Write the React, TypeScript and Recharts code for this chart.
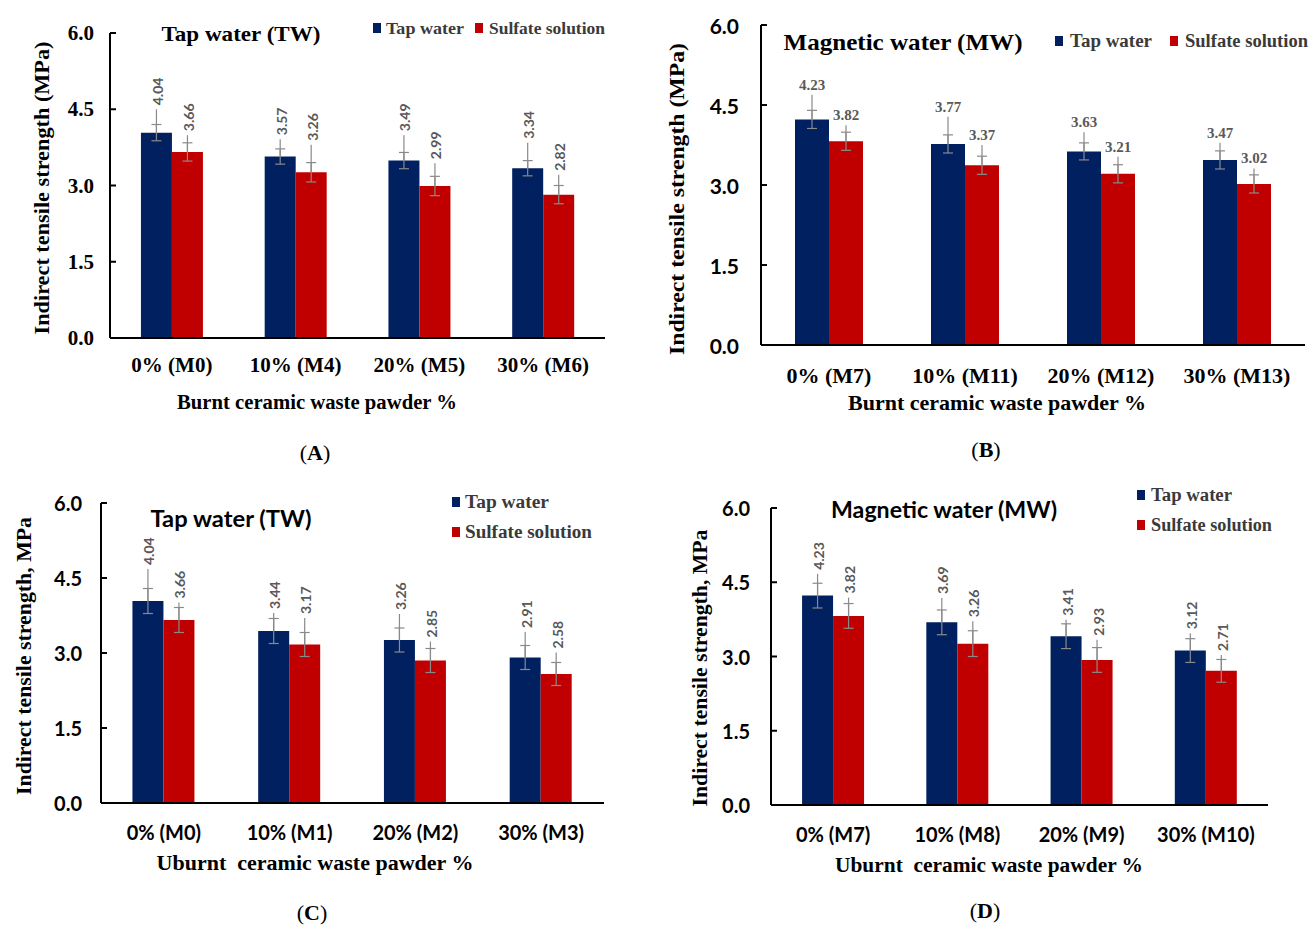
import React from 'react';
import { BarChart, Bar, XAxis, YAxis, ErrorBar, LabelList } from 'recharts';

const NAVY = '#002060';
const RED = '#C00000';
const WHISKER = '#8a8a8a';
const LABEL_GREY = '#595959';
const LEGEND_GREY = '#3a3a3a';
const SERIF = "'Liberation Serif', 'Times New Roman', serif";
const SANS = "Lato, 'Open Sans', sans-serif";

const Y_TICKS = [0, 1.5, 3, 4.5, 6];

// (A) tap water, burnt ceramic powder
const CATS_A = ['0% (M0)', '10% (M4)', '20% (M5)', '30% (M6)'];
const TAP_A = [4.04, 3.57, 3.49, 3.34];
const SULF_A = [3.66, 3.26, 2.99, 2.82];
const TAP_ERR_A = [0.16, 0.15, 0.16, 0.15];
const SULF_ERR_A = [0.18, 0.19, 0.19, 0.18];
const TAP_EXT_A = [0.46, 0.34, 0.5, 0.5];
const SULF_EXT_A = [0.33, 0.54, 0.45, 0.39];

// (B) magnetic water, burnt ceramic powder
const CATS_B = ['0% (M7)', '10% (M11)', '20% (M12)', '30% (M13)'];
const TAP_B = [4.23, 3.77, 3.63, 3.47];
const SULF_B = [3.82, 3.37, 3.21, 3.02];
const TAP_ERR_B = [0.17, 0.17, 0.16, 0.17];
const SULF_ERR_B = [0.17, 0.17, 0.17, 0.17];
const TAP_EXT_B = [0.46, 0.51, 0.36, 0.32];
const SULF_EXT_B = [0.3, 0.38, 0.32, 0.29];

// (C) tap water, unburnt ceramic powder
const CATS_C = ['0% (M0)', '10% (M1)', '20% (M2)', '30% (M3)'];
const TAP_C = [4.04, 3.44, 3.26, 2.91];
const SULF_C = [3.66, 3.17, 2.85, 2.58];
const TAP_ERR_C = [0.25, 0.25, 0.24, 0.24];
const SULF_ERR_C = [0.25, 0.24, 0.24, 0.23];
const TAP_EXT_C = [0.64, 0.36, 0.52, 0.51];
const SULF_EXT_C = [0.35, 0.53, 0.38, 0.43];

// (D) magnetic water, unburnt ceramic powder
const CATS_D = ['0% (M7)', '10% (M8)', '20% (M9)', '30% (M10)'];
const TAP_D = [4.23, 3.69, 3.41, 3.12];
const SULF_D = [3.82, 3.26, 2.93, 2.71];
const TAP_ERR_D = [0.25, 0.25, 0.25, 0.24];
const SULF_ERR_D = [0.25, 0.26, 0.25, 0.23];
const TAP_EXT_D = [0.44, 0.49, 0.33, 0.35];
const SULF_EXT_D = [0.37, 0.45, 0.41, 0.32];

type Box = { l: number; r: number; t: number; b: number };

type PanelProps = {
  cats: string[];
  tap: number[];
  sulf: number[];
  tapErr: number[];
  sulfErr: number[];
  tapExt: number[];
  sulfExt: number[];
  plot: Box;
  yTickFont: { family: string; size: number };
  xTickFont: { family: string; size: number; weight: number };
  yGap: number;
  xDy: number;
  flatLabels?: boolean;
};

function makeLabel(ext: number[], flat: boolean) {
  return (props: any) => {
    const v = Number(props.value);
    const h = Number(props.height);
    const cx = Number(props.x) + Number(props.width) / 2;
    const i = typeof props.index === 'number' ? props.index : 0;
    const top = Number(props.y) - (ext[i] ?? 0) * (h / v);
    if (flat) {
      return (
        <text x={cx} y={top - 5} textAnchor="middle" fontFamily={SERIF} fontWeight={700} fontSize={15} fill={LABEL_GREY}>
          {v.toFixed(2)}
        </text>
      );
    }
    const lx = cx + 1;
    const ly = top - 4;
    return (
      <text
        x={lx}
        y={ly}
        transform={`rotate(-90 ${lx} ${ly})`}
        textAnchor="start"
        dominantBaseline="central"
        fontFamily={SANS}
        fontWeight={700}
        fontSize={14}
        fill={LABEL_GREY}
      >
        {v.toFixed(2)}
      </text>
    );
  };
}

function Panel(p: PanelProps) {
  const data = p.cats.map((c, i) => ({
    cat: c,
    tap: p.tap[i],
    sulf: p.sulf[i],
    tapErr: p.tapErr[i],
    sulfErr: p.sulfErr[i],
    tapExt: [0, p.tapExt[i]],
    sulfExt: [0, p.sulfExt[i]],
  }));
  const left = p.plot.l - 100;
  const top = p.plot.t - 30;
  const width = p.plot.r - p.plot.l + 120;
  const height = p.plot.b - p.plot.t + 80;

  const yTick = (props: any) => {
    const { x, y, payload } = props;
    return (
      <g>
        <line x1={x} x2={x + 6} y1={y} y2={y} stroke="#000" strokeWidth={2} />
        <text
          x={x - p.yGap}
          y={y}
          textAnchor="end"
          dominantBaseline="central"
          fontFamily={p.yTickFont.family}
          fontWeight={700}
          fontSize={p.yTickFont.size}
          fill="#000"
        >
          {Number(payload.value).toFixed(1)}
        </text>
      </g>
    );
  };

  const xTick = (props: any) => {
    const { x, y, payload } = props;
    return (
      <text
        x={x}
        y={y + p.xDy}
        textAnchor="middle"
        dominantBaseline="central"
        fontFamily={p.xTickFont.family}
        fontWeight={p.xTickFont.weight}
        fontSize={p.xTickFont.size}
        fill="#000"
      >
        {payload.value}
      </text>
    );
  };

  return (
    <div style={{ position: 'absolute', left, top }}>
      <BarChart
        width={width}
        height={height}
        data={data}
        margin={{ top: 30, right: 20, left: 40, bottom: 20 }}
        barCategoryGap="25%"
        barGap={0}
      >
        <XAxis
          dataKey="cat"
          height={30}
          interval={0}
          tickSize={0}
          tickMargin={0}
          tickLine={false}
          axisLine={{ stroke: '#000', strokeWidth: 2 }}
          tick={xTick}
        />
        <YAxis
          width={60}
          domain={[0, 6]}
          ticks={Y_TICKS}
          allowDataOverflow
          tickSize={0}
          tickMargin={0}
          tickLine={false}
          axisLine={{ stroke: '#000', strokeWidth: 2 }}
          tick={yTick}
        />
        <Bar dataKey="tap" fill={NAVY} isAnimationActive={false}>
          <ErrorBar dataKey="tapErr" direction="y" width={5} stroke={WHISKER} strokeWidth={1.2} />
          <ErrorBar dataKey="tapExt" direction="y" width={0} stroke={WHISKER} strokeWidth={1.2} />
          <LabelList dataKey="tap" content={makeLabel(p.tapExt, !!p.flatLabels)} />
        </Bar>
        <Bar dataKey="sulf" fill={RED} isAnimationActive={false}>
          <ErrorBar dataKey="sulfErr" direction="y" width={5} stroke={WHISKER} strokeWidth={1.2} />
          <ErrorBar dataKey="sulfExt" direction="y" width={0} stroke={WHISKER} strokeWidth={1.2} />
          <LabelList dataKey="sulf" content={makeLabel(p.sulfExt, !!p.flatLabels)} />
        </Bar>
      </BarChart>
    </div>
  );
}

type Txt = {
  x: number;
  y: number;
  text: string;
  size: number;
  len?: number;
  family?: string;
  weight?: number;
  rotate?: boolean;
  anchor?: 'start' | 'middle' | 'end';
  fill?: string;
};

function T({ x, y, text, size, len, family = SERIF, weight = 700, rotate, anchor = 'middle', fill = '#000' }: Txt) {
  return (
    <text
      x={x}
      y={y}
      textAnchor={anchor}
      dominantBaseline="central"
      fontFamily={family}
      fontWeight={weight}
      fontSize={size}
      fill={fill}
      textLength={len}
      lengthAdjust={len ? 'spacingAndGlyphs' : undefined}
      transform={rotate ? `rotate(-90 ${x} ${y})` : undefined}
      style={{ whiteSpace: 'pre' }}
    >
      {text}
    </text>
  );
}

function Legend({ x1, x2, y1, y2, tx1, tx2, size, len1, len2 }: {
  x1: number; x2: number; y1: number; y2: number; tx1: number; tx2: number; size: number; len1: number; len2: number;
}) {
  return (
    <g>
      <rect x={x1} y={y1 - 5} width={8} height={10} fill={NAVY} />
      <T x={tx1} y={y1} text="Tap water" size={size} len={len1} anchor="start" fill={LEGEND_GREY} />
      <rect x={x2} y={y2 - 5} width={8} height={10} fill={RED} />
      <T x={tx2} y={y2} text="Sulfate solution" size={size} len={len2} anchor="start" fill={LEGEND_GREY} />
    </g>
  );
}

function Letter({ x, y, ch }: { x: number; y: number; ch: string }) {
  return (
    <text x={x} y={y} textAnchor="middle" dominantBaseline="central" fontFamily={SERIF} fontSize={22} fill="#000">
      (<tspan fontWeight={700}>{ch}</tspan>)
    </text>
  );
}

export default function App() {
  return (
    <div style={{ position: 'relative', width: 1316, height: 931, background: '#fff', overflow: 'hidden' }}>
      <style>{'body{margin:0;}'}</style>
      <Panel
        cats={CATS_A} tap={TAP_A} sulf={SULF_A} tapErr={TAP_ERR_A} sulfErr={SULF_ERR_A} tapExt={TAP_EXT_A} sulfExt={SULF_EXT_A}
        plot={{ l: 110, r: 605, t: 33, b: 338 }}
        yTickFont={{ family: SERIF, size: 21 }}
        xTickFont={{ family: SERIF, size: 21, weight: 700 }}
        yGap={16}
        xDy={27}
      />
      <Panel
        cats={CATS_B} tap={TAP_B} sulf={SULF_B} tapErr={TAP_ERR_B} sulfErr={SULF_ERR_B} tapExt={TAP_EXT_B} sulfExt={SULF_EXT_B}
        plot={{ l: 761, r: 1305, t: 25, b: 345 }}
        yTickFont={{ family: SANS, size: 21 }}
        xTickFont={{ family: SERIF, size: 22, weight: 700 }}
        yGap={22}
        xDy={30}
        flatLabels
      />
      <Panel
        cats={CATS_C} tap={TAP_C} sulf={SULF_C} tapErr={TAP_ERR_C} sulfErr={SULF_ERR_C} tapExt={TAP_EXT_C} sulfExt={SULF_EXT_C}
        plot={{ l: 101, r: 604, t: 503, b: 803 }}
        yTickFont={{ family: SANS, size: 20 }}
        xTickFont={{ family: SANS, size: 20, weight: 700 }}
        yGap={19}
        xDy={29}
      />
      <Panel
        cats={CATS_D} tap={TAP_D} sulf={SULF_D} tapErr={TAP_ERR_D} sulfErr={SULF_ERR_D} tapExt={TAP_EXT_D} sulfExt={SULF_EXT_D}
        plot={{ l: 771, r: 1268, t: 508, b: 805 }}
        yTickFont={{ family: SANS, size: 20 }}
        xTickFont={{ family: SANS, size: 20, weight: 700 }}
        yGap={21}
        xDy={29}
      />
      <svg width={1316} height={931} style={{ position: 'absolute', left: 0, top: 0, pointerEvents: 'none' }}>
        {/* A */}
        <T x={42} y={188} text="Indirect tensile strength (MPa)" size={21} len={293} rotate />
        <T x={241} y={33} text="Tap water (TW)" size={22} len={159} />
        <Legend x1={373} x2={475} y1={28} y2={28} tx1={386} tx2={489} size={17} len1={78} len2={116} />
        <T x={317} y={402} text="Burnt ceramic waste pawder %" size={20} len={280} />
        <Letter x={315} y={452} ch="A" />
        {/* B */}
        <T x={676} y={199} text="Indirect tensile strength (MPa)" size={22} len={312} rotate />
        <T x={903} y={42} text="Magnetic water (MW)" size={24} len={239} />
        <Legend x1={1055} x2={1170} y1={41} y2={41} tx1={1070} tx2={1185} size={18} len1={82} len2={123} />
        <T x={997} y={403} text="Burnt ceramic waste pawder %" size={21} len={298} />
        <Letter x={986} y={449} ch="B" />
        {/* C */}
        <T x={24} y={656} text="Indirect tensile strength, MPa" size={20} len={278} rotate />
        <T x={231} y={518} text="Tap water (TW)" size={22} len={161} family={SANS} weight={700} />
        <Legend x1={452} x2={452} y1={502} y2={532} tx1={465} tx2={465} size={18} len1={84} len2={127} />
        <T x={315} y={863} text="Uburnt  ceramic waste pawder %" size={20} len={317} />
        <Letter x={312} y={912} ch="C" />
        {/* D */}
        <T x={700} y={668} text="Indirect tensile strength, MPa" size={20} len={277} rotate />
        <T x={944} y={509} text="Magnetic water (MW)" size={22} len={226} family={SANS} weight={700} />
        <Legend x1={1137} x2={1137} y1={495} y2={525} tx1={1151} tx2={1151} size={18} len1={81} len2={121} />
        <T x={989} y={865} text="Uburnt  ceramic waste pawder %" size={20} len={308} />
        <Letter x={985} y={910} ch="D" />
      </svg>
    </div>
  );
}
